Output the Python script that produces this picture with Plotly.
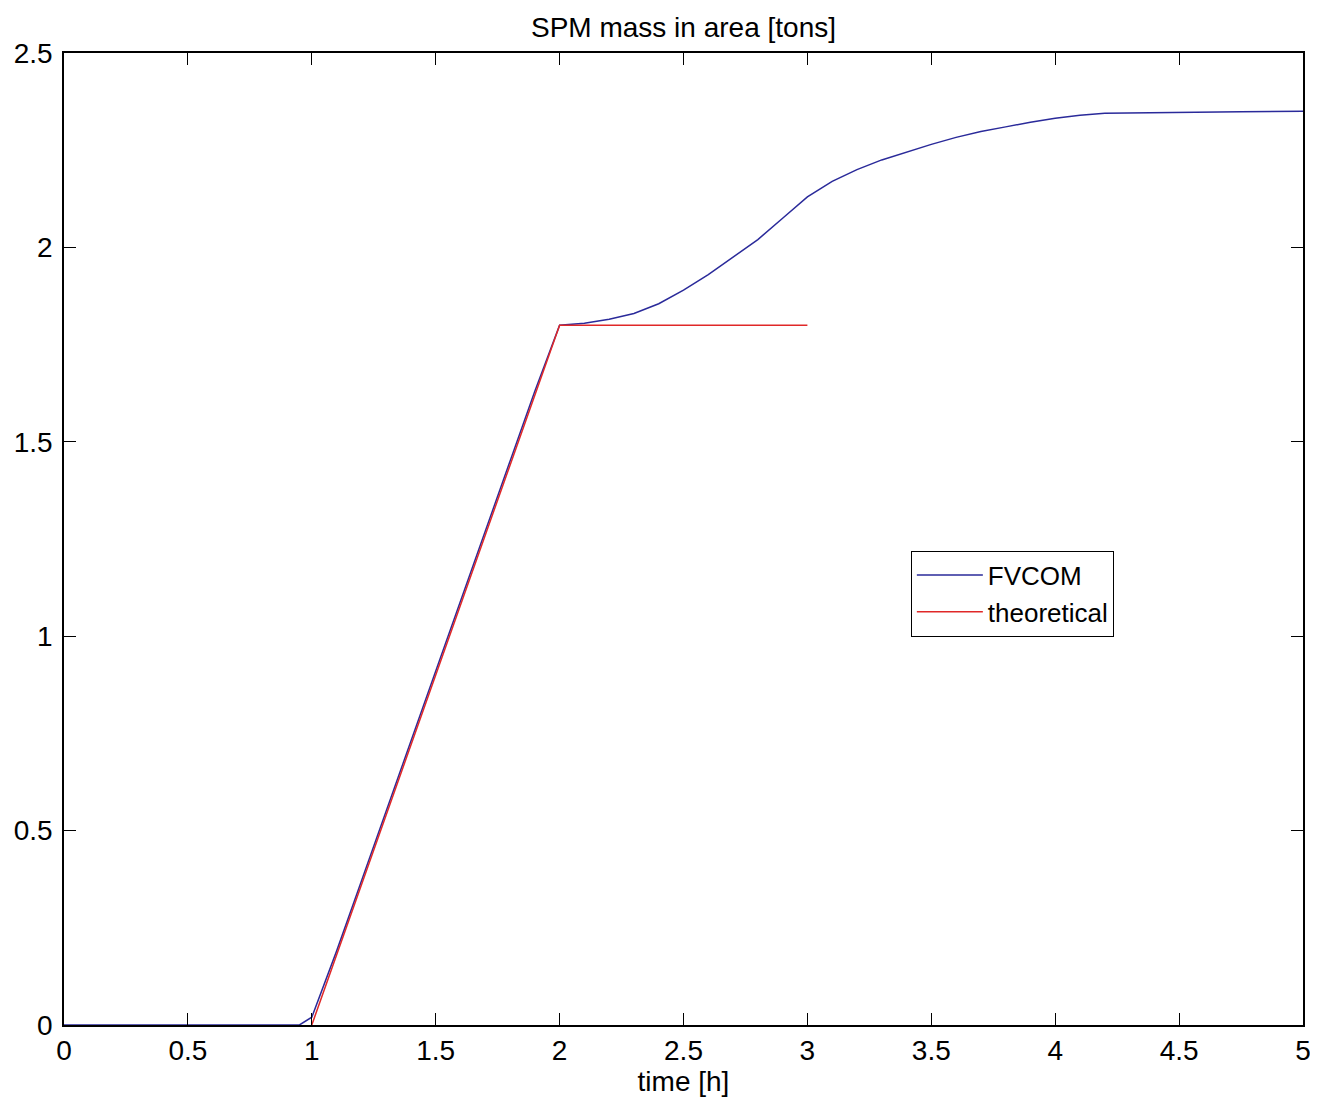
import plotly.graph_objects as go

# FVCOM simulated SPM mass (tons) vs time (h)
fvcom_t = [0.0, 0.5, 0.9, 0.95, 1.0, 1.1, 1.2, 1.3, 1.4, 1.5, 1.6, 1.7, 1.8, 1.9, 2.0,
           2.1, 2.2, 2.3, 2.4, 2.5, 2.6, 2.7, 2.8, 2.9, 3.0, 3.1, 3.2, 3.3, 3.4, 3.5,
           3.6, 3.7, 3.8, 3.9, 4.0, 4.1, 4.2, 4.3, 4.5, 4.75, 5.0]
fvcom_m = [0.0, 0.0, 0.0, 0.0, 0.02, 0.19, 0.37, 0.55, 0.73, 0.91, 1.09, 1.27, 1.45, 1.63, 1.80,
           1.805, 1.815, 1.83, 1.855, 1.89, 1.93, 1.975, 2.02, 2.075, 2.13, 2.17, 2.20,
           2.225, 2.245, 2.265, 2.283, 2.298, 2.31, 2.322, 2.332, 2.34, 2.345, 2.346, 2.348, 2.349, 2.35]

# Theoretical SPM mass
theo_t = [1.0, 2.0, 3.0]
theo_m = [0.0, 1.8, 1.8]

x_ticks = [0, 0.5, 1, 1.5, 2, 2.5, 3, 3.5, 4, 4.5, 5]
x_labels = ["0", "0.5", "1", "1.5", "2", "2.5", "3", "3.5", "4", "4.5", "5"]
y_ticks = [0, 0.5, 1, 1.5, 2, 2.5]
y_labels = ["0", "0.5", "1", "1.5", "2", "2.5"]

FONT = "Liberation Sans, Arial, sans-serif"
FS = 28

fig = go.Figure()
fig.add_trace(go.Scatter(x=fvcom_t, y=fvcom_m, mode="lines", name="FVCOM",
                         line=dict(color="#2a2a9a", width=1.5)))
fig.add_trace(go.Scatter(x=theo_t, y=theo_m, mode="lines", name="theoretical",
                         line=dict(color="#e02828", width=1.5)))

axis_common = dict(showgrid=False, zeroline=False, showline=True, linecolor="black",
                   linewidth=1.5, mirror="ticks", ticks="inside", ticklen=12,
                   tickwidth=1.2, tickcolor="black", automargin=False,
                   tickfont=dict(family=FONT, size=FS, color="black"))

fig.update_xaxes(range=[0, 5], tickvals=x_ticks, ticktext=x_labels,
                 title=dict(text="time [h]", font=dict(family=FONT, size=FS, color="black"),
                            standoff=0),
                 **axis_common)
fig.update_yaxes(range=[0, 2.5], tickvals=y_ticks, ticktext=y_labels, ticklabelstandoff=4,
                 **axis_common)

# the page adds an 8px body margin, so the figure is sized/offset to compensate
W, H = 1310, 1093
fig.update_layout(
    width=W, height=H,
    margin=dict(l=56, r=15, t=45, b=76, autoexpand=False),
    paper_bgcolor="white", plot_bgcolor="white",
    title=dict(text="SPM mass in area [tons]", x=(683.5 - 8) / W, xanchor="center",
               y=1 - 19 / H, yanchor="middle",
               font=dict(family=FONT, size=FS, color="black")),
    legend=dict(x=0.6835, y=0.488, xanchor="left", yanchor="top",
                bgcolor="white", bordercolor="black", borderwidth=1,
                font=dict(family=FONT, size=26, color="black"),
                tracegroupgap=0, itemwidth=66),
    showlegend=True,
)

fig.write_html("out.html")
